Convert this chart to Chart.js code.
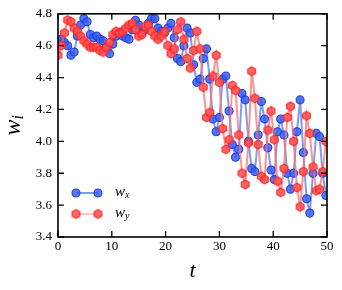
<!DOCTYPE html>
<html>
<head>
<meta charset="utf-8">
<script src="https://cdn.jsdelivr.net/npm/chart.js@4.4.1/dist/chart.umd.min.js"></script>
<style>
  html, body { margin: 0; padding: 0; background: #fff; }
  #wrap { width: 342px; height: 290px; }
</style>
</head>
<body>
<div id="wrap"><canvas id="chartCanvas" width="342" height="290"></canvas></div>
<script>
// time steps
const tVals = [0, 0.6, 1.2, 1.8, 2.4, 3, 3.6, 4.2, 4.8, 5.4, 6, 6.6, 7.2, 7.8, 8.4, 9, 9.6, 10.2, 10.8, 11.4,
    12, 12.6, 13.2, 13.8, 14.4, 15, 15.6, 16.2, 16.8, 17.4, 18, 18.6, 19.2, 19.8, 20.4, 21, 21.6, 22.2, 22.8, 23.4,
    24, 24.6, 25.2, 25.8, 26.4, 27, 27.6, 28.2, 28.8, 29.4, 30, 30.6, 31.2, 31.8, 32.4, 33, 33.6, 34.2, 34.8, 35.4,
    36, 36.6, 37.2, 37.8, 38.4, 39, 39.6, 40.2, 40.8, 41.4, 42, 42.6, 43.2, 43.8, 44.4, 45, 45.6, 46.2, 46.8, 47.4,
    48, 48.6, 49.2, 49.8];

const wx = [4.63, 4.64, 4.62, 4.60, 4.54, 4.56, 4.66, 4.73, 4.77, 4.75, 4.67, 4.65, 4.66, 4.64, 4.63, 4.59, 4.55, 4.61, 4.66, 4.68,
    4.66, 4.65, 4.64, 4.70, 4.76, 4.73, 4.68, 4.70, 4.74, 4.77, 4.77, 4.71, 4.69, 4.68, 4.71, 4.74, 4.65, 4.52, 4.50, 4.60,
    4.71, 4.68, 4.48, 4.37, 4.39, 4.52, 4.58, 4.39, 4.14, 4.06, 4.15, 4.39, 4.41, 4.19, 3.98, 3.90, 3.95, 4.30, 4.26, 4.00,
    3.83, 3.81, 4.04, 4.25, 4.14, 3.96, 3.82, 3.76, 4.06, 4.14, 4.04, 3.80, 3.70, 3.80, 4.06, 4.26, 3.93, 3.64, 3.55, 3.80,
    4.05, 4.03, 3.80, 3.66];

const wy = [4.54, 4.60, 4.68, 4.76, 4.75, 4.71, 4.69, 4.66, 4.63, 4.61, 4.59, 4.59, 4.59, 4.57, 4.56, 4.59, 4.62, 4.67, 4.69, 4.68,
    4.69, 4.71, 4.73, 4.74, 4.70, 4.66, 4.67, 4.72, 4.73, 4.69, 4.66, 4.64, 4.66, 4.69, 4.60, 4.55, 4.58, 4.70, 4.75, 4.64,
    4.52, 4.46, 4.57, 4.69, 4.58, 4.34, 4.15, 4.18, 4.41, 4.54, 4.37, 4.08, 3.95, 4.01, 4.35, 4.32, 4.04, 3.80, 3.73, 3.99,
    4.44, 4.27, 3.98, 3.78, 3.76, 4.07, 4.19, 4.01, 3.75, 3.68, 3.83, 4.15, 4.22, 4.00, 3.71, 3.59, 3.81, 4.16, 4.05, 3.84,
    3.69, 3.70, 3.81, 4.00];

const xTicks = [0, 10, 20, 30, 40, 50];
const yTicks = [3.4, 3.6, 3.8, 4.0, 4.2, 4.4, 4.6, 4.8];

const SERIF = '"Liberation Serif", "DejaVu Serif", serif';

const blueFill = 'rgba(60, 95, 235, 0.85)';
const blueEdge = '#1f3fe6';
const blueLine = 'rgba(85, 120, 235, 0.75)';
const redFill = 'rgba(255, 80, 80, 0.85)';
const redEdge = '#ff2222';
const redLine = 'rgba(255, 110, 110, 0.75)';

// hexagon marker drawn on a small canvas
function hexMarker(r, fill, stroke) {
    const s = Math.ceil(2 * r + 4);
    const c = document.createElement('canvas');
    c.width = s; c.height = s;
    const g = c.getContext('2d');
    g.beginPath();
    for (let i = 0; i < 6; i++) {
        const a = (-90 + 60 * i) * Math.PI / 180;
        const px = s / 2 + r * Math.cos(a), py = s / 2 + r * Math.sin(a);
        if (i === 0) g.moveTo(px, py); else g.lineTo(px, py);
    }
    g.closePath();
    g.fillStyle = fill;
    g.fill();
    g.lineWidth = 1.1;
    g.strokeStyle = stroke;
    g.stroke();
    return c;
}

const hexRed = hexMarker(4.4, redFill, redEdge);

function drawCircle(ctx, x, y) {
    ctx.beginPath();
    ctx.arc(x, y, 4, 0, Math.PI * 2);
    ctx.fillStyle = blueFill;
    ctx.fill();
    ctx.lineWidth = 1.1;
    ctx.strokeStyle = blueEdge;
    ctx.stroke();
}

function drawSubLabel(ctx, x, y, main, sub, size) {
    ctx.font = 'italic ' + size + 'px ' + SERIF;
    ctx.fillText(main, x, y);
    const w = ctx.measureText(main).width;
    ctx.font = 'italic ' + Math.round(size * 0.68) + 'px ' + SERIF;
    ctx.fillText(sub, x + w, y + size * 0.22);
}

const framePlugin = {
    id: 'framePlugin',
    afterDraw(chart) {
        const ctx = chart.ctx;
        const a = chart.chartArea;
        const xs = chart.scales.x, ys = chart.scales.y;
        ctx.save();
        ctx.strokeStyle = '#000';
        ctx.lineWidth = 1.6;
        ctx.strokeRect(a.left, a.top, a.right - a.left, a.bottom - a.top);
        ctx.lineWidth = 1.3;
        const tl = 6;
        ctx.beginPath();
        xTicks.forEach(v => {
            const px = xs.getPixelForValue(v);
            ctx.moveTo(px, a.bottom); ctx.lineTo(px, a.bottom - tl);
            ctx.moveTo(px, a.top); ctx.lineTo(px, a.top + tl);
        });
        yTicks.forEach(v => {
            const py = ys.getPixelForValue(v);
            ctx.moveTo(a.left, py); ctx.lineTo(a.left + tl, py);
            ctx.moveTo(a.right, py); ctx.lineTo(a.right - tl, py);
        });
        ctx.stroke();

        // legend
        const lx = a.left + 18, ly1 = a.bottom - 44, ly2 = a.bottom - 23;
        ctx.lineWidth = 2;
        ctx.strokeStyle = blueLine;
        ctx.beginPath(); ctx.moveTo(lx, ly1); ctx.lineTo(lx + 22, ly1); ctx.stroke();
        drawCircle(ctx, lx, ly1);
        drawCircle(ctx, lx + 22, ly1);
        ctx.strokeStyle = redLine;
        ctx.beginPath(); ctx.moveTo(lx, ly2); ctx.lineTo(lx + 22, ly2); ctx.stroke();
        ctx.drawImage(hexRed, lx - hexRed.width / 2, ly2 - hexRed.height / 2);
        ctx.drawImage(hexRed, lx + 22 - hexRed.width / 2, ly2 - hexRed.height / 2);
        ctx.fillStyle = '#000';
        ctx.textBaseline = 'middle';
        ctx.textAlign = 'left';
        drawSubLabel(ctx, lx + 39, ly1 - 1, 'w', 'x', 15);
        drawSubLabel(ctx, lx + 39, ly2 - 1, 'w', 'y', 15);

        // axis titles
        ctx.textAlign = 'center';
        ctx.font = 'italic 22px ' + SERIF;
        ctx.fillText('t', (a.left + a.right) / 2, 271);
        ctx.save();
        ctx.translate(14, (a.top + a.bottom) / 2 - 2);
        ctx.rotate(-Math.PI / 2);
        ctx.textAlign = 'left';
        drawSubLabel(ctx, -12, 0, 'w', 'i', 24);
        ctx.restore();
        ctx.restore();
    }
};

const ctx = document.getElementById('chartCanvas').getContext('2d');

new Chart(ctx, {
    type: 'line',
    data: {
        datasets: [{
            label: 'w_x',
            data: tVals.map((t, i) => ({ x: t, y: wx[i] })),
            borderColor: blueLine,
            borderWidth: 2,
            backgroundColor: blueFill,
            pointBackgroundColor: blueFill,
            pointBorderColor: blueEdge,
            pointBorderWidth: 1.1,
            pointRadius: 4,
            pointStyle: 'circle',
            tension: 0,
            order: 1
        }, {
            label: 'w_y',
            data: tVals.map((t, i) => ({ x: t, y: wy[i] })),
            borderColor: redLine,
            borderWidth: 2,
            backgroundColor: redFill,
            pointStyle: hexRed,
            pointRadius: 4,
            tension: 0,
            order: 0
        }]
    },
    options: {
        responsive: false,
        animation: false,
        events: [],
        layout: { padding: { top: 13, right: 15, left: 0, bottom: 0 } },
        plugins: { legend: { display: false }, tooltip: { enabled: false } },
        scales: {
            x: {
                type: 'linear',
                min: 0, max: 50,
                grid: { display: false, drawTicks: false },
                border: { display: false },
                afterFit: s => { s.height = 53; },
                afterBuildTicks: s => { s.ticks = xTicks.map(v => ({ value: v })); },
                ticks: { color: '#000', padding: 2, font: { family: SERIF, size: 13 } }
            },
            y: {
                min: 3.4, max: 4.8,
                grid: { display: false, drawTicks: false },
                border: { display: false },
                afterFit: s => { s.width = 58; },
                afterBuildTicks: s => { s.ticks = yTicks.map(v => ({ value: v })); },
                ticks: {
                    color: '#000', padding: 6, font: { family: SERIF, size: 13 },
                    callback: v => Number(v).toFixed(1)
                }
            }
        }
    },
    plugins: [framePlugin]
});
</script>
</body>
</html>
